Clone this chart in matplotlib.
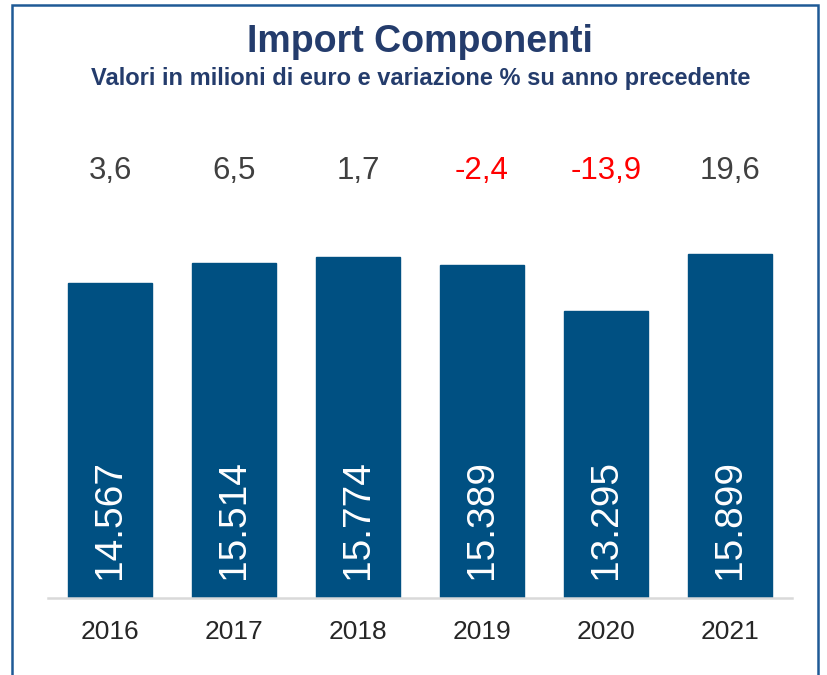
import matplotlib
matplotlib.use("Agg")
import matplotlib.pyplot as plt
from matplotlib.patches import Rectangle
from matplotlib.transforms import blended_transform_factory

years = ["2016", "2017", "2018", "2019", "2020", "2021"]
values = [14567, 15514, 15774, 15389, 13295, 15899]
value_labels = ["14.567", "15.514", "15.774", "15.389", "13.295", "15.899"]
pct_changes = [3.6, 6.5, 1.7, -2.4, -13.9, 19.6]
pct_labels = ["3,6", "6,5", "1,7", "-2,4", "-13,9", "19,6"]

plt.rcParams['font.family'] = ['Liberation Sans', 'DejaVu Sans']

W, H = 827, 675
fig = plt.figure(figsize=(W / 100, H / 100), dpi=100)

# frame
frame = Rectangle((12 / W, -0.05), (818 - 12) / W, (H - 5) / H + 0.05,
                  transform=fig.transFigure, fill=False,
                  edgecolor="#1F5A96", linewidth=1.8)
fig.patches.append(frame)

ax = fig.add_axes([48 / W, 77 / H, (792 - 48) / W, (598 - 100) / H])
x = list(range(len(years)))
ax.bar(x, values, width=0.68, color="#005082", edgecolor="#005082", zorder=2)
ax.set_xlim(-0.5, len(years) - 0.5)
ax.set_ylim(0, 498 / 0.02162)

for s in ["top", "right", "left"]:
    ax.spines[s].set_visible(False)
ax.spines["bottom"].set_color("#D9D9D9")
ax.spines["bottom"].set_linewidth(1.8)
ax.spines["bottom"].set_zorder(3)
ax.set_yticks([])
ax.set_xticks(x)
ax.set_xticklabels(years, fontsize=19, color="#262626")
ax.tick_params(axis="x", length=0, pad=16)

for i, (v, lab) in enumerate(zip(values, value_labels)):
    ax.text(i, 860, lab, rotation=90, rotation_mode="anchor",
            ha="left", va="center", color="white", fontsize=28, zorder=4)

trans = blended_transform_factory(ax.transData, ax.transAxes)
for i, (p, lab) in enumerate(zip(pct_changes, pct_labels)):
    ax.text(i, (598 - 171) / 498, lab, transform=trans, ha="center", va="center",
            fontsize=22.5, color="#FF0000" if p < 0 else "#404040")

fig.text(420 / W, 1 - 42 / H, "Import Componenti", ha="center", va="center",
         fontsize=27, fontweight="bold", color="#243C6C")
fig.text(421 / W, 1 - 78 / H, "Valori in milioni di euro e variazione % su anno precedente",
         ha="center", va="center", fontsize=17, fontweight="bold", color="#243C6C")

fig.savefig("out.png", dpi=100)
